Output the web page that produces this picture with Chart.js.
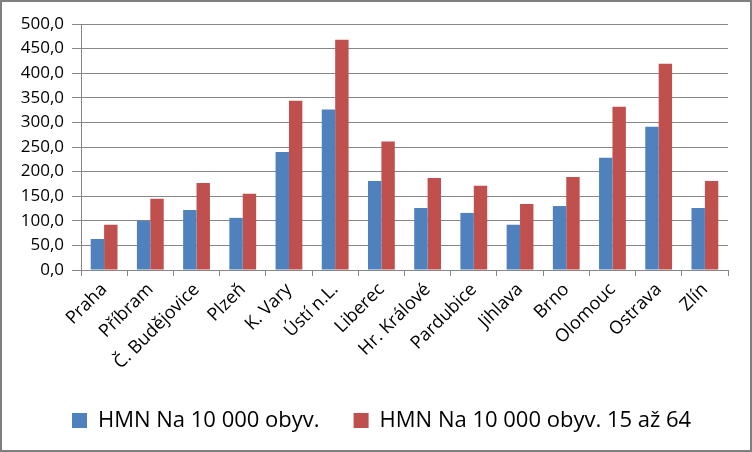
<!DOCTYPE html>
<html>
<head>
<meta charset="utf-8">
<script src="https://cdn.jsdelivr.net/npm/chart.js@4/dist/chart.umd.min.js"></script>
<style>
  html, body { margin: 0; padding: 0; background: #fff; }
  #wrap { width: 752px; height: 452px; box-sizing: border-box; border: 2px solid #7f7f7f; background: #fff; }
  canvas { display: block; }
</style>
</head>
<body>
<div id="wrap"><canvas id="chart" width="748" height="448"></canvas></div>
<script>
'use strict'

// data
const regions = ['Praha', 'Příbram', 'Č. Budějovice', 'Plzeň', 'K. Vary', 'Ústí n.L.', 'Liberec',
	'Hr. Králové', 'Pardubice', 'Jihlava', 'Brno', 'Olomouc', 'Ostrava', 'Zlín'];
const hmnAll = [63, 100, 122, 106, 240, 326, 181, 126, 116, 92, 130, 228, 291, 126];
const hmn1564 = [92, 145, 177, 155, 344, 468, 261, 187, 171, 134, 189, 332, 419, 181];
const seriesNames = ['HMN Na 10 000 obyv.', 'HMN Na 10 000 obyv. 15 až 64'];

const gridGray = '#878787';
const font = 'Open Sans';

// moves the legend a bit, the way Excel put it
let legendShift = {
	id: 'legendShift',
	afterLayout: (chart) => {
		let lg = chart.legend;
		lg.left += 36; lg.right += 36;
		lg.top -= 8.5; lg.bottom -= 8.5;
	}
};

let ctx = document.getElementById('chart').getContext('2d');
let chart = new Chart(ctx, {
	type: 'bar',
	data: {
		labels: regions,
		datasets: [{
				label: seriesNames[0],
				backgroundColor: '#4F81BD',
				data: hmnAll
			},
			{
				label: seriesNames[1],
				backgroundColor: '#C0504D',
				data: hmn1564
			}
		]
	},
	options: {
		responsive: false,
		animation: false,
		layout: {
			padding: { top: 22, right: 22, left: 0, bottom: 0 }
		},
		datasets: {
			bar: { categoryPercentage: 0.58, barPercentage: 1.0 }
		},
		scales: {
			x: {
				afterFit: (scale) => { scale.height = 114; },
				grid: { drawOnChartArea: false, color: gridGray, tickLength: 6, offset: true },
				border: { color: gridGray },
				ticks: {
					color: '#000',
					font: { family: font, size: 18 },
					maxRotation: 45,
					minRotation: 45,
					autoSkip: false,
					padding: 3
				}
			},
			y: {
				min: 0,
				max: 500,
				afterFit: (scale) => { scale.width = 79; },
				grid: { color: gridGray, tickLength: 9 },
				border: { color: gridGray },
				ticks: {
					stepSize: 50,
					color: '#000',
					font: { family: font, size: 17 },
					padding: 8,
					callback: (v) => v.toFixed(1).replace('.', ',')
				}
			}
		},
		plugins: {
			legend: {
				position: 'bottom',
				align: 'start',
				labels: {
					color: '#000',
					font: { family: font, size: 22 },
					boxWidth: 15,
					boxHeight: 15,
					padding: 34
				}
			},
			tooltip: { enabled: false }
		}
	},
	plugins: [legendShift]
});
</script>
</body>
</html>
